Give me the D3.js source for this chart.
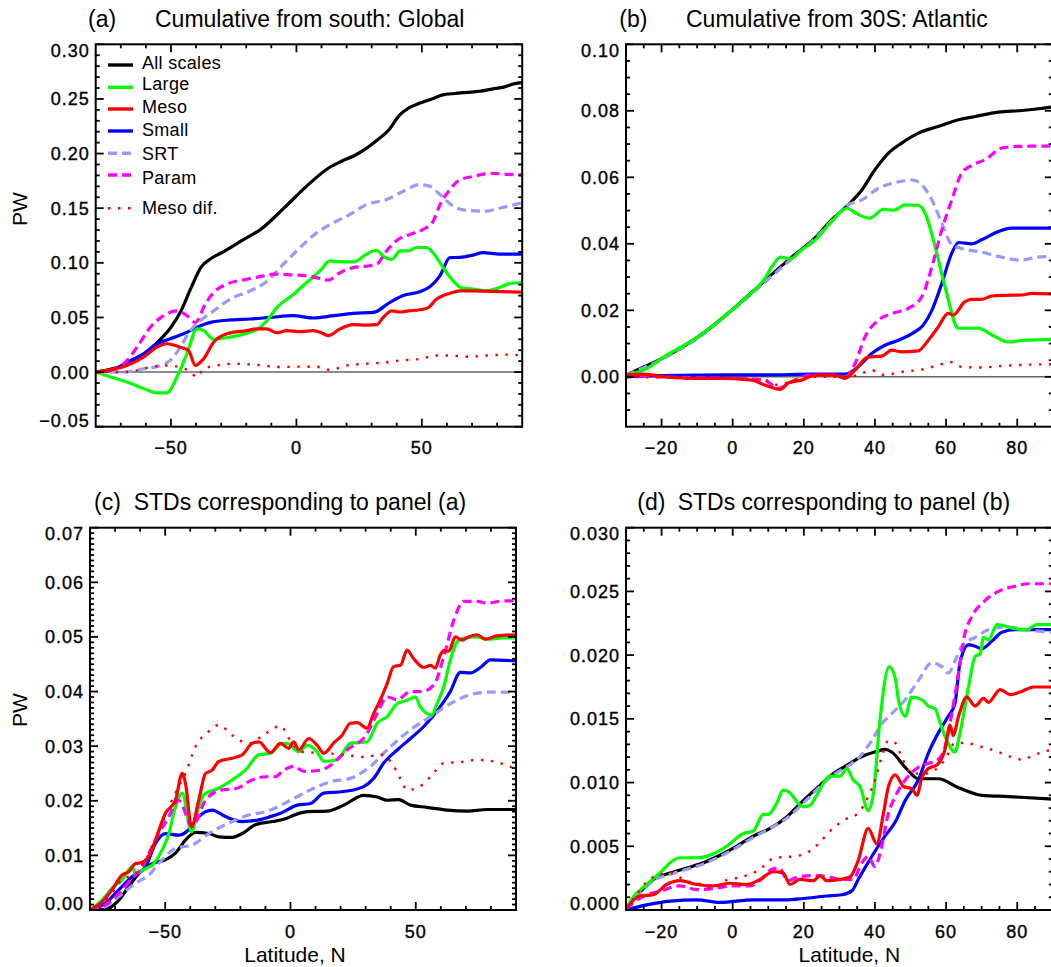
<!DOCTYPE html>
<html><head><meta charset="utf-8">
<script src="https://cdn.jsdelivr.net/npm/d3@7"></script>
<style>
body{margin:0;background:#fff;}
svg{display:block;font-family:"Liberation Sans",Arial,Helvetica,sans-serif;}
</style></head>
<body>
<svg id="chart" width="1051" height="967"></svg>
<script>
// ---------------- DATA ----------------
const seriesNames = ["All scales","Large","Meso","Small","SRT","Param","Meso dif."];
const panelTitles = [["(a)","Cumulative from south: Global"],["(b)","Cumulative from 30S: Atlantic"],["(c)","STDs corresponding to panel (a)"],["(d)","STDs corresponding to panel (b)"]];
const yLabel = "PW";
const xLabel = "Latitude, N";

// Panel (a)
const aAll = [[-80,0],[-75,0.002],[-70,0.005],[-65,0.010],[-60,0.017],[-55,0.028],[-50,0.041],[-46,0.056],[-42,0.077],[-38,0.096],[-34,0.104],[-30,0.109],[-22,0.120],[-14,0.131],[-5,0.150],[4,0.170],[13,0.187],[18,0.193],[23,0.198],[28,0.205],[32,0.212],[37,0.222],[41,0.235],[45,0.242],[49,0.246],[54,0.250],[58,0.2535],[63,0.255],[68,0.256],[73,0.257],[78,0.259],[83,0.261],[87,0.264],[90,0.265]];
const aLarge = [[-80,0],[-74,-0.0045],[-67.5,-0.009],[-61,-0.015],[-55.6,-0.019],[-51.6,-0.019],[-47.6,-0.0045],[-43.6,0.017],[-39.6,0.0395],[-37,0.038],[-33,0.030],[-26.4,0.032],[-18.4,0.0365],[-14.4,0.041],[-11.8,0.047],[-7.8,0.059],[-1.2,0.071],[4.1,0.082],[9.4,0.0926],[13.4,0.1017],[16,0.101],[22.7,0.1008],[28,0.108],[32,0.1115],[34.6,0.106],[38,0.103],[41.3,0.111],[44.6,0.111],[47.9,0.114],[51.9,0.114],[54.5,0.109],[58.5,0.0956],[62.5,0.0835],[65.8,0.077],[70.4,0.076],[75.8,0.0744],[81,0.0774],[85,0.081],[90,0.082]];
const aMeso = [[-80,0],[-74,0.002],[-67.5,0.006],[-61,0.0137],[-55.6,0.0228],[-51.6,0.0259],[-46.3,0.0228],[-43,0.0198],[-40.3,0.0061],[-37,0.0122],[-33,0.0273],[-27.7,0.035],[-19.7,0.038],[-15.8,0.0395],[-11.8,0.0395],[-7.8,0.036],[-3.8,0.038],[1.5,0.037],[6.8,0.038],[10,0.036],[12.7,0.0334],[17.4,0.0395],[22.7,0.0434],[28,0.043],[32,0.0434],[34.6,0.05],[38,0.056],[41.3,0.055],[44.6,0.056],[49.2,0.057],[52.6,0.059],[55.9,0.0668],[58.5,0.070],[61.1,0.072],[65.1,0.0744],[70.4,0.0744],[78.4,0.0738],[90,0.0732]];
const aSmall = [[-80,0],[-74,0.0015],[-67.5,0.009],[-61,0.0167],[-55.6,0.0259],[-50.3,0.0304],[-45,0.035],[-39.6,0.041],[-34.3,0.0455],[-26.4,0.0477],[-18.4,0.0486],[-10.5,0.050],[-1.2,0.0516],[6.8,0.0495],[14.8,0.0516],[22.7,0.0537],[30.7,0.0546],[37.3,0.0638],[42.6,0.070],[49.2,0.0735],[53.2,0.078],[57.2,0.088],[61.2,0.1047],[65.1,0.105],[70.4,0.107],[74.4,0.1093],[81,0.108],[90,0.108]];
const aSRT = [[-80,0],[-69,0],[-61,0.003],[-54.2,0.006],[-50.3,0.0107],[-46.3,0.0228],[-42.3,0.038],[-38.3,0.047],[-33,0.056],[-26.4,0.0668],[-18.4,0.0744],[-11.8,0.083],[-5.2,0.0987],[1.5,0.114],[8.1,0.1275],[14.7,0.1366],[21.4,0.1443],[28,0.1534],[36,0.158],[42.6,0.1655],[49.2,0.1716],[53.2,0.170],[57.2,0.1625],[62.5,0.1518],[67.8,0.148],[75.8,0.1473],[81,0.150],[90,0.155]];
const aParam = [[-80,0],[-74,0.002],[-68.8,0.0076],[-63.5,0.0228],[-58.2,0.041],[-52.9,0.0516],[-47.6,0.056],[-43.6,0.0516],[-40.3,0.0455],[-36.3,0.0623],[-33,0.0729],[-27.7,0.0805],[-19.7,0.085],[-13.1,0.088],[-9.2,0.0896],[-1.2,0.0889],[4.1,0.088],[8.8,0.086],[12.7,0.0841],[17.4,0.091],[22.7,0.0956],[28,0.097],[32,0.0987],[36,0.111],[40,0.1205],[45.2,0.126],[50.5,0.1306],[54.5,0.138],[57.2,0.153],[61.2,0.167],[65.1,0.176],[70.4,0.179],[77.1,0.182],[83.8,0.181],[90,0.1805]];
const aMesoDif = [[-80,0],[-69,0],[-63.5,0.0015],[-58.2,0.0046],[-51.6,0.006],[-46.3,0.0046],[-42.3,0],[-39.6,-0.0045],[-37,0.003],[-31.7,0.006],[-25,0.0076],[-18.4,0.007],[-13,0.006],[-7.8,0.0046],[1.5,0.005],[9.4,0.0046],[13.4,0.002],[20,0.006],[28,0.0076],[36,0.009],[41.3,0.0107],[49.2,0.012],[55.9,0.0152],[61.2,0.0152],[67.8,0.014],[75.8,0.0152],[83.8,0.016],[90,0.0152]];

// Panel (b)
const bAll = [[-30,0.0005],[-25,0.003],[-19,0.006],[-9.7,0.012],[-0.3,0.020],[9.1,0.029],[16.6,0.036],[23.1,0.0417],[27.8,0.0472],[32.5,0.0517],[36.3,0.0562],[40,0.0623],[43.8,0.0673],[47.5,0.0703],[52.2,0.0733],[57.8,0.0753],[63.5,0.0773],[68.2,0.0783],[74.7,0.0796],[81.3,0.0801],[90,0.0812]];
const bLarge = [[-30,0.0005],[-24.7,0.0022],[-19,0.0062],[-9.7,0.012],[-0.3,0.020],[5,0.025],[9,0.0295],[11,0.0331],[13.4,0.036],[16.2,0.0355],[19.4,0.0382],[23.1,0.041],[27.8,0.0467],[32.1,0.0507],[35,0.049],[38.6,0.0477],[42.4,0.0504],[45.2,0.0501],[48.5,0.0517],[52.2,0.0516],[54.1,0.0492],[56.9,0.0392],[59.7,0.0271],[63.5,0.0146],[66.3,0.0146],[69.1,0.0146],[72.9,0.0126],[77.5,0.0105],[82.2,0.011],[90,0.0113]];
const bMeso = [[-30,0.0005],[-25.6,0.0008],[-19,0],[-11.5,-0.0005],[-2.1,-0.0005],[5.4,-0.001],[9.1,-0.0025],[13.4,-0.0038],[15.7,-0.0018],[19.4,-0.001],[23.1,0.0005],[28.8,0.0005],[31.6,-0.0005],[34.4,0.002],[38.1,0.006],[41.9,0.0062],[44.7,0.008],[47.5,0.0075],[52.2,0.0078],[55,0.011],[57.8,0.015],[60.6,0.0191],[62,0.0186],[65.3,0.0226],[67.2,0.0233],[70,0.0233],[72.9,0.0243],[76.6,0.0245],[81.3,0.0246],[84.1,0.0251],[90,0.0249]];
const bSmall = [[-30,0],[-20,0.0004],[-10,0.0005],[0,0.0006],[10,0.0006],[22,0.0008],[31.6,0.0008],[35.3,0.003],[39.1,0.007],[42.8,0.0095],[46.6,0.011],[50.4,0.013],[53.6,0.0156],[56,0.020],[58.8,0.0281],[61.6,0.0372],[63.5,0.0404],[67.2,0.040],[70,0.0412],[74.7,0.0437],[78.5,0.0447],[90,0.0447]];
const bSRT = [[-30,0.0005],[-19,0.0058],[-9.7,0.0117],[-0.3,0.0197],[9.1,0.0285],[16.6,0.0355],[23.1,0.0415],[27.8,0.0468],[32.5,0.0517],[36.3,0.0532],[41,0.0567],[45.7,0.0584],[50.4,0.0592],[53.2,0.0577],[56,0.0532],[58.8,0.0462],[61.6,0.0397],[63.9,0.0387],[69.6,0.0376],[75.2,0.0361],[80.8,0.0351],[86.4,0.0361],[90,0.0362]];
const bParam = [[-30,0.0005],[-20,0],[-10,-0.0003],[0,-0.0005],[9,-0.001],[12.8,-0.0035],[16.6,-0.0015],[22.2,0.0005],[27.8,0.0005],[31.6,0],[34.4,0.004],[37.2,0.012],[41,0.0171],[44.7,0.019],[49.4,0.0206],[53.2,0.0241],[56,0.0331],[58.8,0.0442],[61.6,0.0532],[64.4,0.0613],[67.2,0.0636],[71,0.0653],[75.7,0.0688],[80.3,0.0693],[90,0.0694]];
const bMesoDif = [[-30,0],[-20,-0.0002],[-10,-0.0003],[0,-0.0005],[9,-0.001],[13,-0.0025],[17,-0.001],[22,0],[31.6,0],[35,0.0005],[39,0.002],[42.8,0.0005],[47.5,0.0015],[53.2,0.0022],[57.8,0.0035],[61.1,0.0045],[64.4,0.003],[70,0.0028],[74.7,0.0032],[79.4,0.0035],[90,0.0038]];

// Panel (c)
const cAll = [[-80,0],[-74,0.0001],[-68.5,0.0018],[-64.5,0.0043],[-60.5,0.0067],[-55.2,0.0085],[-49.9,0.0092],[-45.9,0.0104],[-41.9,0.0128],[-37.9,0.0142],[-32.6,0.014],[-28.6,0.0134],[-23.3,0.0133],[-19.3,0.014],[-14,0.0156],[-7.3,0.0162],[-2,0.0167],[0,0.0171],[6.7,0.018],[14.6,0.0181],[21.3,0.0192],[29.2,0.021],[34.6,0.0207],[38.6,0.0201],[43.2,0.0202],[47.9,0.0192],[54.5,0.0188],[62.5,0.0183],[70.5,0.0181],[78.5,0.0184],[90,0.0184]];
const cLarge = [[-80,0],[-75.2,0.0018],[-71.2,0.004],[-67.2,0.0055],[-63.2,0.0079],[-61.8,0.0067],[-57.8,0.0076],[-55.2,0.0082],[-51.2,0.011],[-48.5,0.014],[-45.9,0.0189],[-43.2,0.0214],[-39.5,0.0143],[-36.6,0.0189],[-34.6,0.0211],[-28.6,0.0223],[-23.3,0.0238],[-18,0.0256],[-12.6,0.0284],[-8,0.0287],[-3.3,0.0305],[0,0.0304],[1.3,0.0296],[3.3,0.029],[6.7,0.0302],[10.6,0.029],[13.3,0.0272],[18.6,0.0275],[23.9,0.0305],[30.6,0.0308],[34.6,0.0342],[38.6,0.0354],[42.6,0.0378],[46.5,0.0384],[49.9,0.039],[51.8,0.0372],[56.5,0.0357],[58.5,0.0378],[61.2,0.0409],[63.8,0.0458],[66.5,0.0491],[69.1,0.0498],[74.5,0.05],[78.5,0.0496],[85,0.0498],[90,0.0498]];
const cMeso = [[-80,0],[-75.2,0.0015],[-71.2,0.0037],[-67.2,0.0064],[-64.5,0.007],[-61.8,0.0085],[-59.2,0.0087],[-56.5,0.0098],[-53.9,0.0128],[-49.9,0.0177],[-45.9,0.0201],[-43.2,0.025],[-41.9,0.0232],[-39.5,0.0153],[-36.6,0.0201],[-33.9,0.025],[-31.3,0.0256],[-28.6,0.0272],[-23.3,0.0278],[-19.3,0.0284],[-15.3,0.0305],[-12.6,0.0308],[-8,0.0288],[-4,0.0305],[-0.7,0.0296],[1.3,0.0308],[3.3,0.0293],[7.3,0.0314],[10.6,0.0302],[13.3,0.0287],[17.3,0.0306],[20.6,0.032],[23.9,0.0342],[26.6,0.0343],[30.6,0.0333],[33.2,0.036],[35.9,0.0385],[38.6,0.0415],[41.2,0.0446],[43.9,0.0448],[46.5,0.0476],[49.2,0.046],[53.2,0.0444],[55.9,0.0448],[57.8,0.0443],[59.8,0.0467],[61.2,0.0475],[63.2,0.0474],[65.8,0.05],[68.5,0.0494],[71.1,0.05],[74.5,0.0504],[77.8,0.0496],[82.4,0.0502],[90,0.0504]];
const cSmall = [[-80,0],[-74,0.0012],[-68.5,0.0037],[-63.2,0.0061],[-57.8,0.0079],[-53.9,0.0122],[-49.9,0.014],[-44.6,0.0137],[-40.6,0.0147],[-36.6,0.0171],[-31.3,0.0183],[-25.9,0.0171],[-19.3,0.0162],[-12.6,0.0165],[-8,0.0171],[-4,0.0177],[2.7,0.0192],[8,0.0195],[13.3,0.0214],[21.3,0.0217],[29.2,0.0226],[33.2,0.0241],[37.2,0.0269],[42.6,0.0293],[47.9,0.0314],[53.2,0.0336],[57.2,0.0357],[63.8,0.040],[67.8,0.0435],[71.8,0.0434],[75.8,0.0444],[79.8,0.0458],[90,0.0456]];
const cSRT = [[-80,0],[-74,0.0006],[-67.2,0.003],[-61.8,0.0049],[-56.5,0.0064],[-51.2,0.0092],[-45.9,0.0113],[-39.2,0.0119],[-32.6,0.014],[-24.6,0.0159],[-16.6,0.0174],[-10,0.018],[-8,0.0183],[0,0.0201],[8,0.022],[16,0.0235],[23.9,0.0241],[31.9,0.0263],[39.9,0.0299],[47.9,0.033],[55.9,0.0354],[63.8,0.0378],[69.1,0.039],[74.5,0.0397],[79.8,0.0399],[90,0.0399]];
const cParam = [[-80,0],[-74,0.0009],[-68.5,0.003],[-63.2,0.0058],[-59.2,0.0079],[-56.5,0.0104],[-52.5,0.014],[-48.5,0.0171],[-44.6,0.0201],[-39.2,0.0153],[-33.9,0.0201],[-27.3,0.022],[-21.9,0.0222],[-15.3,0.0238],[-10,0.0244],[-6,0.0244],[-2.7,0.0256],[1.3,0.0263],[5.3,0.0254],[12,0.0256],[16,0.0265],[22.6,0.0293],[30.6,0.0323],[34.6,0.036],[38.6,0.039],[42.6,0.0385],[47.9,0.04],[52.5,0.04],[57.2,0.0412],[61.2,0.0464],[65.2,0.0531],[69.1,0.0565],[74.5,0.0565],[78.5,0.0562],[85.2,0.0566],[90,0.0566]];
const cMesoDif = [[-80,0],[-74,0.0015],[-67.2,0.0055],[-61.8,0.0067],[-57.8,0.0092],[-53.9,0.0128],[-48.5,0.0189],[-44.6,0.0226],[-41.9,0.025],[-37.9,0.0299],[-32.6,0.0327],[-28.6,0.0339],[-23.3,0.032],[-16.6,0.0305],[-10,0.0323],[-4,0.0337],[0,0.031],[4,0.029],[10,0.0288],[20,0.0285],[30,0.028],[36,0.0285],[40.6,0.0268],[43.9,0.024],[46.5,0.022],[50.5,0.0223],[55.9,0.0244],[61.2,0.0269],[67.8,0.0271],[74.5,0.0275],[82.4,0.0271],[87.8,0.0262],[90,0.026]];

// Panel (d)
const dAll = [[-30,0.0001],[-26.1,0.0014],[-22.3,0.0024],[-17.6,0.0029],[-12.9,0.0033],[-8.3,0.0037],[-3.6,0.0043],[1.1,0.005],[5.8,0.0058],[10.5,0.0064],[15.2,0.0073],[19.9,0.0086],[24.6,0.0098],[28.3,0.0107],[33,0.0115],[35.3,0.0119],[40,0.0124],[42.8,0.0126],[44.7,0.0124],[48.5,0.0112],[52.2,0.0103],[57.8,0.0103],[63.5,0.0096],[70,0.009],[77.5,0.0089],[90,0.0087]];
const dLarge = [[-30,0.0001],[-28,0.001],[-24.2,0.002],[-20.5,0.0029],[-16.7,0.0039],[-14.8,0.0041],[-10.1,0.0041],[-5.5,0.0044],[-1.7,0.005],[3,0.006],[5.8,0.0062],[8.6,0.0075],[10,0.0075],[12.4,0.0084],[14.2,0.0094],[16.1,0.0092],[18,0.0085],[19.9,0.0081],[21.7,0.0082],[23.6,0.009],[27.4,0.0105],[30.2,0.0105],[32.1,0.0111],[33.9,0.0102],[35.8,0.0097],[38.1,0.0078],[39.6,0.0092],[41.4,0.0149],[44,0.0191],[45.7,0.0182],[46.6,0.0165],[48.5,0.0152],[50.3,0.0167],[53.2,0.0165],[55,0.016],[56.9,0.0158],[58.3,0.0147],[60.2,0.0133],[62.5,0.0124],[63.9,0.0139],[66.3,0.0175],[68.2,0.0199],[69.6,0.0201],[70.5,0.0214],[71.9,0.0212],[74.3,0.0224],[78.9,0.0221],[82.7,0.022],[85.5,0.0224],[90,0.0224]];
const dMeso = [[-30,0.0001],[-26.1,0.0011],[-22.3,0.0012],[-18.6,0.002],[-14.8,0.0023],[-10.1,0.002],[-5.5,0.0019],[-0.8,0.0021],[3.9,0.002],[7.7,0.0024],[11.4,0.003],[14.2,0.0029],[16.1,0.002],[18.9,0.0024],[22.7,0.0023],[24.6,0.0027],[26.4,0.0023],[30.2,0.0024],[33,0.0026],[35.3,0.0039],[38.1,0.0064],[40.5,0.0052],[42.4,0.0076],[43.8,0.0097],[45.7,0.0106],[48,0.0097],[50.4,0.0095],[51.8,0.009],[53.2,0.0104],[55,0.0111],[57.5,0.0114],[59.7,0.0126],[61.1,0.0145],[62,0.0137],[63.5,0.0152],[65.8,0.0167],[68.2,0.016],[70.5,0.0166],[71.9,0.0163],[75.2,0.0173],[78,0.0169],[80.8,0.0171],[84.6,0.0175],[90,0.0175]];
const dSmall = [[-30,0],[-24.2,0.0004],[-17.6,0.0007],[-10.1,0.0008],[-3.6,0.0006],[5.8,0.0008],[15.2,0.0008],[19.9,0.0009],[26.4,0.0011],[30.7,0.0012],[33.5,0.0015],[35.3,0.0024],[39.1,0.0042],[42.8,0.0058],[45.7,0.0069],[48.5,0.0086],[52.2,0.0102],[55,0.0123],[57.8,0.0139],[60.6,0.0152],[62.5,0.0162],[63.9,0.0194],[66.3,0.0208],[68.2,0.0207],[70,0.0205],[72.9,0.0211],[75.7,0.0218],[79.4,0.022],[90,0.022]];
const dSRT = [[-30,0.0001],[-26.1,0.0013],[-22.3,0.0023],[-17.6,0.0028],[-12.9,0.0032],[-8.3,0.0036],[-3.6,0.0042],[1.1,0.0049],[5.8,0.0057],[10.5,0.0064],[15.2,0.0072],[19.9,0.0084],[24.6,0.0097],[28.3,0.0106],[33,0.0114],[35.3,0.0119],[39.1,0.0133],[41.9,0.0146],[44.7,0.0154],[48.5,0.0165],[52.2,0.018],[56,0.0194],[58.8,0.0191],[60.6,0.0186],[62.6,0.0196],[64.4,0.0207],[68.2,0.0214],[72.9,0.0221],[77.5,0.0222],[82.2,0.022],[90,0.0218]];
const dParam = [[-30,0.0001],[-25,0.0011],[-20,0.0015],[-15,0.0019],[-10,0.0016],[-5,0.0017],[0,0.0019],[5,0.0019],[8,0.0024],[11,0.0032],[13,0.0033],[15.6,0.0023],[18.4,0.0026],[23.1,0.0027],[26.9,0.0026],[30.7,0.0024],[33.9,0.0024],[36.3,0.0037],[38.1,0.0042],[40,0.0034],[41.4,0.0044],[43.8,0.0076],[45.7,0.0089],[48.5,0.0102],[52.2,0.0112],[55,0.0115],[57.8,0.0118],[59.7,0.0128],[61.6,0.0154],[63.5,0.0186],[65.3,0.0217],[67.2,0.023],[71,0.0243],[74.7,0.025],[79.4,0.0254],[83.1,0.0256],[90,0.0256]];
const dMesoDif = [[-30,0.0001],[-27,0.0012],[-24.2,0.0022],[-21.4,0.0027],[-17.2,0.0029],[-13.4,0.0023],[-9.7,0.0021],[-5.9,0.0017],[-2.1,0.0023],[2.6,0.0026],[7.2,0.0031],[11.9,0.0041],[16.6,0.0042],[20.3,0.0044],[24.1,0.0052],[27.8,0.0063],[31.6,0.0071],[35.3,0.0076],[38.1,0.0089],[40,0.0102],[41.9,0.012],[43.8,0.0133],[45.7,0.0131],[47.5,0.012],[50.4,0.0107],[54.1,0.0107],[56.9,0.011],[59.7,0.0118],[62.5,0.0131],[65.3,0.0131],[70,0.0128],[74.7,0.0124],[78.5,0.012],[81.3,0.0118],[85,0.0122],[90,0.0126]];

// x/y tick labels
const xTicksAC = [-50,0,50];
const xTicksBD = [-20,0,20,40,60,80];
const yTicksA = [-0.05,0,0.05,0.10,0.15,0.20,0.25,0.30];
const yTicksB = [0,0.02,0.04,0.06,0.08,0.10];
const yTicksC = [0,0.01,0.02,0.03,0.04,0.05,0.06,0.07];
const yTicksD = [0,0.005,0.010,0.015,0.020,0.025,0.030];

// ---------------- STYLE / LAYOUT ----------------
const styles = {
  "All scales":{color:"#000000",w:3.2,dash:null},
  "Large":{color:"#00ff00",w:3.2,dash:null},
  "Meso":{color:"#ff0000",w:3.2,dash:null},
  "Small":{color:"#0000ff",w:3.2,dash:null},
  "SRT":{color:"#9999ff",w:3.2,dash:"9,5"},
  "Param":{color:"#ff00ff",w:3.2,dash:"9,5"},
  "Meso dif.":{color:"#ff0000",w:2.4,dash:"2.5,7.5"}
};
const drawOrder = ["All scales","Small","SRT","Large","Param","Meso","Meso dif."];

const panels = [
  {key:"a", box:[95.7,522.2,44.3,426.7], xd:[-80,90], yd:[-0.05,0.30], xt:xTicksAC, xminor:10, yt:yTicksA, yminor:0.01, fmt:".2f", zero:true, ylab:true, xlab:false,
   data:{"All scales":aAll,"Large":aLarge,"Meso":aMeso,"Small":aSmall,"SRT":aSRT,"Param":aParam,"Meso dif.":aMesoDif},
   title:panelTitles[0], tpos:[88,155,26.7], ylabPos:[27,209]},
  {key:"b", box:[626,1052.8,44.3,426.7], xd:[-30,90], yd:[-0.015,0.10], xt:xTicksBD, xminor:5, yt:yTicksB, yminor:0.005, fmt:".2f", zero:true, ylab:false, xlab:false,
   data:{"All scales":bAll,"Large":bLarge,"Meso":bMeso,"Small":bSmall,"SRT":bSRT,"Param":bParam,"Meso dif.":bMesoDif},
   title:panelTitles[1], tpos:[619.3,686,26.7]},
  {key:"c", box:[90,516,527.7,910], xd:[-80,90], yd:[0,0.07], xt:xTicksAC, xminor:10, yt:yTicksC, yminor:0.001, fmt:".2f", zero:false, ylab:true, xlab:true,
   data:{"All scales":cAll,"Large":cLarge,"Meso":cMeso,"Small":cSmall,"SRT":cSRT,"Param":cParam,"Meso dif.":cMesoDif},
   title:panelTitles[2], tpos:[94,133.7,510.3], ylabPos:[27,710]},
  {key:"d", box:[626,1052.8,527.7,910], xd:[-30,90], yd:[0,0.03], xt:xTicksBD, xminor:5, yt:yTicksD, yminor:0.001, fmt:".3f", zero:false, ylab:false, xlab:true,
   data:{"All scales":dAll,"Large":dLarge,"Meso":dMeso,"Small":dSmall,"SRT":dSRT,"Param":dParam,"Meso dif.":dMesoDif},
   title:panelTitles[3], tpos:[637.3,677.7,510.3]}
];

const svg = d3.select("#chart");
const TICKFS = 18, TITLEFS = 23, LABFS = 21, LEGFS = 18;

panels.forEach(p=>{
  const [L,R,T,B] = p.box;
  const x = d3.scaleLinear().domain(p.xd).range([L,R]);
  const y = d3.scaleLinear().domain(p.yd).range([B,T]);
  const g = svg.append("g");
  const clipId = "clip"+p.key;
  svg.append("clipPath").attr("id",clipId).append("rect").attr("x",L).attr("y",T).attr("width",R-L).attr("height",B-T);

  if(p.zero){
    g.append("line").attr("x1",L).attr("x2",R).attr("y1",y(0)).attr("y2",y(0))
     .attr("stroke","#666").attr("stroke-width",1.6);
  }
  const line = d3.line().x(d=>x(d[0])).y(d=>y(d[1])).curve(d3.curveMonotoneX);
  const sg = g.append("g").attr("clip-path",`url(#${clipId})`);
  drawOrder.forEach(name=>{
    const st = styles[name];
    sg.append("path").datum(p.data[name]).attr("d",line)
      .attr("fill","none").attr("stroke",st.color).attr("stroke-width",st.w)
      .attr("stroke-dasharray",st.dash).attr("stroke-linejoin","round");
  });

  g.append("rect").attr("x",L).attr("y",T).attr("width",R-L).attr("height",B-T)
   .attr("fill","none").attr("stroke","#000").attr("stroke-width",2);

  const eps=1e-9;
  const xMaj = new Set(p.xt.map(v=>Math.round(v*1000)));
  const xMinors = d3.range(Math.ceil(p.xd[0]/p.xminor)*p.xminor, p.xd[1]+eps, p.xminor).filter(v=>!xMaj.has(Math.round(v*1000)) && v>p.xd[0]+eps && v<p.xd[1]-eps);
  const yMaj = new Set(p.yt.map(v=>Math.round(v*1e5)));
  const yMinors = d3.range(Math.ceil((p.yd[0]-eps)/p.yminor)*p.yminor, p.yd[1]+eps, p.yminor).filter(v=>!yMaj.has(Math.round(v*1e5)) && v>p.yd[0]+eps && v<p.yd[1]-eps);
  const tk = g.append("g").attr("stroke","#000").attr("stroke-width",1.8);
  const xt = p.xt.filter(v=>v>p.xd[0]&&v<p.xd[1]);
  xt.forEach(v=>{ tk.append("line").attr("x1",x(v)).attr("x2",x(v)).attr("y1",B).attr("y2",B-8);
                  tk.append("line").attr("x1",x(v)).attr("x2",x(v)).attr("y1",T).attr("y2",T+8);});
  xMinors.forEach(v=>{ tk.append("line").attr("x1",x(v)).attr("x2",x(v)).attr("y1",B).attr("y2",B-4);
                  tk.append("line").attr("x1",x(v)).attr("x2",x(v)).attr("y1",T).attr("y2",T+4);});
  p.yt.forEach(v=>{ tk.append("line").attr("x1",L).attr("x2",L+8).attr("y1",y(v)).attr("y2",y(v));
                  tk.append("line").attr("x1",R).attr("x2",R-8).attr("y1",y(v)).attr("y2",y(v));});
  yMinors.forEach(v=>{ tk.append("line").attr("x1",L).attr("x2",L+4).attr("y1",y(v)).attr("y2",y(v));
                  tk.append("line").attr("x1",R).attr("x2",R-4).attr("y1",y(v)).attr("y2",y(v));});

  const fmt = d3.format(p.fmt);
  p.yt.forEach(v=>{
    const cy = Math.max(T+6, Math.min(B-6, y(v)));
    g.append("text").attr("x",L-6).attr("y",cy+TICKFS*0.36).attr("text-anchor","end")
     .attr("font-size",TICKFS).attr("letter-spacing","1px").attr("stroke","#000").attr("stroke-width",0.35).text(fmt(v));
  });
  xt.forEach(v=>{
    g.append("text").attr("x",x(v)).attr("y",B+27.5).attr("text-anchor","middle")
     .attr("font-size",TICKFS).attr("letter-spacing","1px").attr("stroke","#000").attr("stroke-width",0.35).text(d3.format("d")(v).replace("-","\u2212"));
  });

  g.append("text").attr("x",p.tpos[0]).attr("y",p.tpos[2]).attr("font-size",TITLEFS).text(p.title[0]);
  g.append("text").attr("x",p.tpos[1]).attr("y",p.tpos[2]).attr("font-size",TITLEFS).text(p.title[1]);

  if(p.ylab){
    g.append("text").attr("transform",`translate(${p.ylabPos[0]},${p.ylabPos[1]}) rotate(-90)`)
     .attr("text-anchor","middle").attr("font-size",LABFS).text(yLabel);
  }
  if(p.xlab){
    g.append("text").attr("x",(L+R)/2 - (p.key==="d"?-10:8)).attr("y",962).attr("text-anchor","middle")
     .attr("font-size",LABFS).text(xLabel);
  }

  if(p.key==="a"){
    const legLineY = [65,87.3,109,131,153.3,175,208.3];
    const legTextY = [69,89.6,112.5,136,160,184.3,214.3];
    const lg = g.append("g");
    seriesNames.forEach((name,i)=>{
      const st = styles[name];
      lg.append("line").attr("x1",108).attr("x2",133).attr("y1",legLineY[i]).attr("y2",legLineY[i])
        .attr("stroke",st.color).attr("stroke-width",name==="Meso dif."?2.4:3.4).attr("stroke-dasharray",st.dash);
      lg.append("text").attr("x",142).attr("y",legTextY[i]).attr("font-size",LEGFS).attr("letter-spacing","0.3px").text(name);
    });
  }
});
</script>
</body></html>
